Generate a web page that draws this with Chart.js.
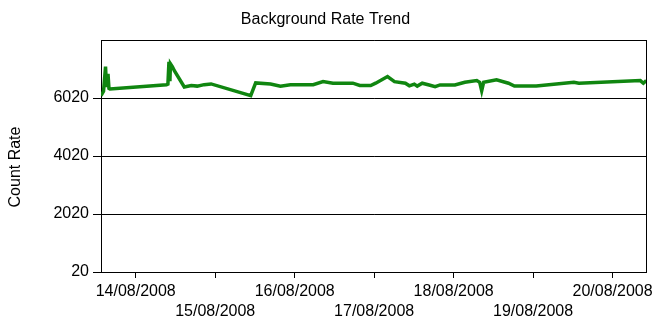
<!DOCTYPE html>
<html>
<head>
<meta charset="utf-8">
<title>Background Rate Trend</title>
<script src="https://cdn.jsdelivr.net/npm/chart.js@4.4.0/dist/chart.umd.min.js"></script>
<style>
  body { margin: 0; background: #fff; }
  #wrap { width: 657px; height: 320px; }
</style>
</head>
<body>
<div id="wrap"><canvas id="trend"></canvas></div>
<script>
// sample times in days after 14/08/2008 00:00
var sampleDays = [-0.437, -0.405, -0.380, -0.368, -0.349, -0.337, -0.324,
  0.387, 0.405, 0.418, 0.430, 0.437, 0.462, 0.486,
  0.611, 0.699, 0.773, 0.861, 0.948,
  1.447, 1.509, 1.696, 1.821, 1.946,
  2.233, 2.357, 2.482, 2.732, 2.819, 2.956,
  3.019, 3.168, 3.256, 3.393, 3.443, 3.505, 3.542, 3.605, 3.692, 3.767, 3.829,
  4.016, 4.141, 4.291, 4.328, 4.353, 4.378, 4.540, 4.690, 4.765,
  5.039, 5.513, 5.576,
  6.349, 6.387, 6.424];
var countRate = [6100, 6250, 7100, 6400, 6850, 6350, 6330,
  6480, 6500, 7270, 6600, 7200, 7095, 6960,
  6400, 6450, 6430, 6480, 6505,
  6100, 6540, 6505, 6430, 6480,
  6480, 6585, 6530, 6530, 6450, 6450,
  6530, 6760, 6585, 6530, 6440, 6500, 6430, 6530, 6470, 6410, 6470,
  6470, 6565, 6620, 6560, 6270, 6565, 6645, 6530, 6430,
  6430, 6565, 6530,
  6620, 6530, 6620];
var tickDays = [0, 1, 2, 3, 4, 5, 6];
var tickLabels = ['14/08/2008', '15/08/2008', '16/08/2008', '17/08/2008', '18/08/2008', '19/08/2008', '20/08/2008'];
var yTicks = [20, 2020, 4020, 6020, 8020];

var font = 'Liberation Sans, Arial, sans-serif';

var points = [];
for (var i = 0; i < sampleDays.length; i++) {
  points.push({x: sampleDays[i], y: countRate[i]});
}

// right border of plot + y axis title placed like the original
var framePlugin = {
  id: 'frame',
  afterDraw: function(chart) {
    var c = chart.ctx, a = chart.chartArea;
    c.save();
    c.strokeStyle = '#000';
    c.lineWidth = 1;
    c.beginPath();
    c.moveTo(Math.round(a.right) + 0.5, a.top);
    c.lineTo(Math.round(a.right) + 0.5, a.bottom);
    c.stroke();
    c.translate(16, 167);
    c.rotate(-Math.PI / 2);
    c.fillStyle = '#000';
    c.font = '16px ' + font;
    c.textAlign = 'center';
    c.textBaseline = 'middle';
    c.fillText('Count Rate', 0, 0);
    c.restore();
  }
};

Chart.defaults.font.family = font;
Chart.defaults.font.size = 16;
Chart.defaults.color = '#000';

new Chart(document.getElementById('trend'), {
  type: 'line',
  data: {
    datasets: [{
      data: points,
      borderColor: 'rgb(16,134,16)',
      borderWidth: 3.5,
      pointRadius: 0,
      tension: 0,
      fill: false
    }]
  },
  options: {
    responsive: true,
    maintainAspectRatio: false,
    animation: false,
    events: [],
    layout: { padding: { left: 0, right: 6, top: 0, bottom: 0 } },
    plugins: {
      legend: { display: false },
      tooltip: { enabled: false },
      title: {
        display: true,
        text: 'Background Rate Trend',
        color: '#000',
        font: { size: 16, weight: 'normal', lineHeight: 1.2 },
        padding: { top: 10.4, bottom: 10.4 }
      }
    },
    scales: {
      x: {
        type: 'linear',
        min: -0.437,
        max: 6.424,
        afterBuildTicks: function(scale) {
          scale.ticks = tickDays.map(function(d) { return {value: d}; });
        },
        afterFit: function(scale) { scale.height = 48; },
        ticks: {
          autoSkip: false,
          maxRotation: 0,
          minRotation: 0,
          padding: 4,
          font: { size: 16, lineHeight: 1.25 },
          callback: function(v, idx) {
            var lbl = tickLabels[tickDays.indexOf(v)];
            return idx % 2 == 0 ? lbl : ['', lbl];
          }
        },
        grid: { drawOnChartArea: false, drawTicks: true, tickLength: 6, color: '#000' },
        border: { display: true, color: '#000', width: 1 }
      },
      y: {
        min: 20,
        max: 8020,
        afterBuildTicks: function(scale) {
          scale.ticks = yTicks.map(function(v) { return {value: v}; });
        },
        afterFit: function(scale) { scale.width = 101; },
        ticks: {
          padding: 4,
          font: { size: 16 },
          callback: function(v) { return v == 8020 ? '' : v; }
        },
        grid: {
          color: '#000',
          lineWidth: 1,
          tickLength: 8,
          tickColor: function(ctx) { return ctx.tick && ctx.tick.value == 8020 ? 'rgba(0,0,0,0)' : '#000'; }
        },
        border: { display: true, color: '#000', width: 1 }
      }
    }
  },
  plugins: [framePlugin]
});
</script>
</body>
</html>
